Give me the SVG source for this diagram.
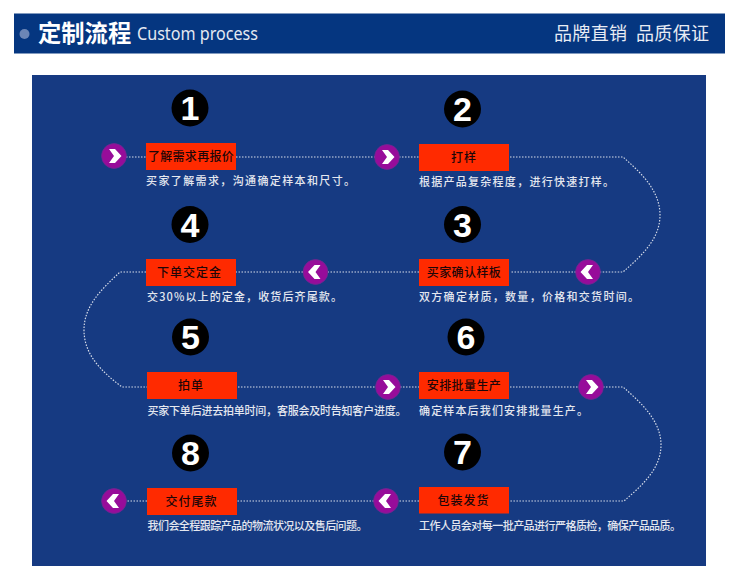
<svg xmlns="http://www.w3.org/2000/svg" width="744" height="580" viewBox="0 0 744 580">
<style>
text{font-family:"Noto Sans CJK SC","Noto Sans",sans-serif}
.num circle{fill:#000}
.num text{font-family:"Liberation Sans",sans-serif;font-weight:700;font-size:34px;fill:#fff;text-anchor:middle}
.box{fill:#ff2a00}
.lbl{font-size:12px;font-weight:500;fill:#1e0608;text-anchor:middle;letter-spacing:1px}
.sub{font-size:11px;font-weight:500;fill:#e4e7ef}
.dot{fill:none;stroke:#d5dbe8;stroke-width:1.2;stroke-dasharray:1.5 1.5}
.pc{fill:#970c9a;stroke:#6f2a90;stroke-width:.8}
.chev{fill:#fff}
</style>
<defs>
<g id="r"><circle class="pc" r="12.4"/><polygon class="chev" points="-5,-7 1,-7 7.500,0 1,7 -5,7 0,0"/></g>
<g id="l"><circle class="pc" r="12.4"/><polygon class="chev" points="5,-7 -1,-7 -7.500,0 -1,7 5,7 0,0"/></g>
</defs>
<rect width="744" height="580" fill="#fff"/>
<g id="header">
<rect x="14" y="13.5" width="711" height="40" fill="#053680"/>
<circle cx="24.5" cy="34" r="5" fill="#6c86b6"/>
<text x="38" y="41.500" font-size="23.3" font-weight="700" fill="#fff">定制流程</text>
<text x="137" y="40" font-size="17.2" fill="#e4e9f2" style="font-family:'Noto Sans',sans-serif" textLength="121" lengthAdjust="spacingAndGlyphs">Custom process</text>
<text x="554" y="39.500" font-size="18" fill="#e8ecf4" textLength="73">品牌直销</text>
<text x="636" y="39.500" font-size="18" fill="#e8ecf4" textLength="73">品质保证</text>
</g>
<rect id="panel" x="32" y="75" width="674" height="491" fill="#163a82"/>
<g id="connectors">
<path class="dot" d="M126 157H146M236 157H375M399 157H419M510 157H623C640 172 660 190 660 215C660 240 640 257 623 272H600M576 272H510M419 272H328M303 272H236M146 272H120C103 288 84 305 84 330C84 355 102 372 122 387H147M238 387H376M400 387H419M510 387H579M603 387H623C640 402 661 420 661 445C661 470 640 487 624 501H510M419 501H398M374 501H237M147 501H126"/>
</g>
<g id="node1"><g class="num"><circle cx="190" cy="108" r="18.5"/><text x="190" y="120">1</text></g><use href="#r" x="114" y="156"/><rect class="box" x="146" y="143" width="90" height="27"/><text class="lbl" x="191" y="161" style="letter-spacing:.3px">了解需求再报价</text><text class="sub" x="146" y="185" textLength="209">买家了解需求，沟通确定样本和尺寸。</text></g>
<g id="node2"><g class="num"><circle cx="462.5" cy="109" r="18.5"/><text x="462.5" y="121">2</text></g><use href="#r" x="387" y="157"/><rect class="box" x="419" y="144" width="90" height="27"/><text class="lbl" x="464" y="161.500">打样</text><text class="sub" x="419" y="186" textLength="195">根据产品复杂程度，进行快速打样。</text></g>
<g id="node3"><g class="num"><circle cx="462.5" cy="224.5" r="18.5"/><text x="462.500" y="236.500">3</text></g><use href="#l" x="588" y="272"/><rect class="box" x="419" y="259" width="90" height="27"/><text class="lbl" x="464" y="277" style="letter-spacing:.4px">买家确认样板</text><text class="sub" x="419" y="301" textLength="220">双方确定材质，数量，价格和交货时间。</text></g>
<g id="node4"><g class="num"><circle cx="190" cy="224.5" r="18.500"/><text x="190" y="236.500">4</text></g><use href="#l" x="315.5" y="272"/><rect class="box" x="146" y="259" width="90" height="27"/><text class="lbl" x="189.500" y="277">下单交定金</text><text class="sub" x="147" y="301" textLength="195">交30%以上的定金，收货后齐尾款。</text></g>
<g id="node5"><g class="num"><circle cx="190.5" cy="337" r="18.500"/><text x="190.5" y="349">5</text></g><use href="#r" x="388" y="387"/><rect class="box" x="147" y="372" width="90" height="27"/><text class="lbl" x="191" y="390">拍单</text><text class="sub" x="147.500" y="415" textLength="259">买家下单后进去拍单时间，客服会及时告知客户进度。</text></g>
<g id="node6"><g class="num"><circle cx="466" cy="337" r="18.500"/><text x="466" y="349">6</text></g><use href="#r" x="591" y="387"/><rect class="box" x="419" y="372" width="90" height="27"/><text class="lbl" x="464" y="390" style="letter-spacing:.4px">安排批量生产</text><text class="sub" x="419" y="415" textLength="169">确定样本后我们安排批量生产。</text></g>
<g id="node7"><g class="num"><circle cx="462.5" cy="452" r="18.500"/><text x="462.5" y="464">7</text></g><use href="#l" x="386" y="501"/><rect class="box" x="419" y="487" width="90" height="26.500"/><text class="lbl" x="463.500" y="505">包装发货</text><text class="sub" x="419" y="530" textLength="262">工作人员会对每一批产品进行严格质检，确保产品品质。</text></g>
<g id="node8"><g class="num"><circle cx="190.5" cy="453" r="18.500"/><text x="190.5" y="465">8</text></g><use href="#l" x="114" y="501"/><rect class="box" x="147" y="488" width="90" height="27"/><text class="lbl" x="191.500" y="506">交付尾款</text><text class="sub" x="147.500" y="530" textLength="220">我们会全程跟踪产品的物流状况以及售后问题。</text></g>
</svg>
